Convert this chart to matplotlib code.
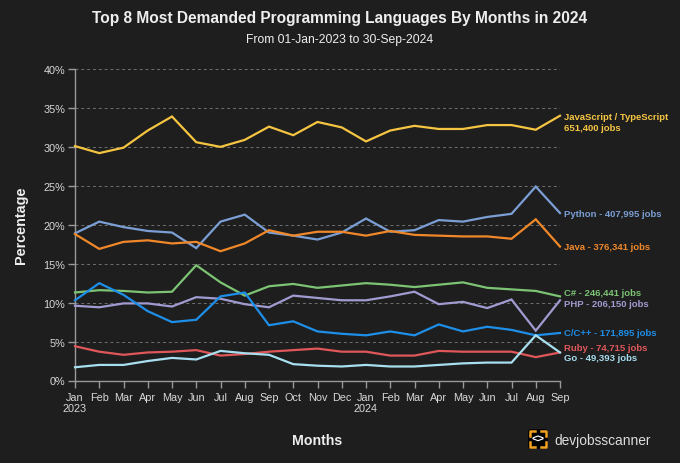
import matplotlib
matplotlib.use("Agg")
import matplotlib.pyplot as plt
from matplotlib.patches import FancyBboxPatch
from matplotlib.lines import Line2D

plt.rcParams['font.family'] = ['Liberation Sans', 'DejaVu Sans']

months = ["Jan\n2023", "Feb", "Mar", "Apr", "May", "Jun", "Jul", "Aug", "Sep", "Oct", "Nov", "Dec",
          "Jan\n2024", "Feb", "Mar", "Apr", "May", "Jun", "Jul", "Aug", "Sep"]

js = [30.1, 29.2, 29.9, 32.1, 33.9, 30.6, 30.0, 30.9, 32.6, 31.5, 33.2, 32.5, 30.7, 32.1, 32.7, 32.3, 32.3, 32.8, 32.8, 32.2, 34.0]
python = [18.9, 20.4, 19.7, 19.2, 19.0, 17.0, 20.4, 21.3, 19.0, 18.6, 18.1, 19.0, 20.8, 19.1, 19.3, 20.6, 20.4, 21.0, 21.4, 24.9, 21.5]
java = [18.8, 16.9, 17.8, 18.0, 17.6, 17.8, 16.6, 17.6, 19.3, 18.6, 19.1, 19.1, 18.6, 19.2, 18.7, 18.6, 18.5, 18.5, 18.2, 20.7, 17.2]
csharp = [11.3, 11.6, 11.5, 11.3, 11.4, 14.8, 12.6, 10.9, 12.1, 12.4, 11.9, 12.2, 12.5, 12.3, 12.0, 12.3, 12.6, 11.9, 11.7, 11.5, 10.8]
php = [9.6, 9.4, 9.9, 9.9, 9.5, 10.7, 10.5, 9.8, 9.4, 10.9, 10.6, 10.3, 10.3, 10.8, 11.4, 9.8, 10.1, 9.3, 10.4, 6.4, 10.3]
cpp = [10.3, 12.5, 11.0, 8.9, 7.5, 7.8, 10.8, 11.3, 7.1, 7.6, 6.3, 6.0, 5.8, 6.3, 5.8, 7.2, 6.3, 6.9, 6.5, 5.8, 6.1]
ruby = [4.4, 3.7, 3.3, 3.6, 3.7, 3.9, 3.2, 3.4, 3.7, 3.9, 4.1, 3.7, 3.7, 3.2, 3.2, 3.8, 3.7, 3.7, 3.7, 3.0, 3.6]
go = [1.7, 2.0, 2.0, 2.5, 2.9, 2.7, 3.8, 3.5, 3.3, 2.1, 1.9, 1.8, 2.0, 1.8, 1.8, 2.0, 2.2, 2.3, 2.3, 5.8, 3.6]

labels = ["JavaScript / TypeScript\n651,400 jobs", "Python - 407,995 jobs", "Java - 376,341 jobs",
          "C# - 246,441 jobs", "PHP - 206,150 jobs", "C/C++ - 171,895 jobs",
          "Ruby - 74,715 jobs", "Go - 49,393 jobs"]
series = [js, python, java, csharp, php, cpp, ruby, go]
colors = ["#f5c542", "#7b9fd4", "#f0882a", "#7cc474", "#a09bd0", "#1e8fe8", "#e0575a", "#a8dff0"]
label_offsets = [-6, 0, 0, 4, -3, 0, 4.5, -5]  # pixel offsets (up positive)

BG = "#1e1e1e"
fig = plt.figure(figsize=(6.8, 4.64), dpi=100, facecolor=BG)
ax = fig.add_axes([75/680, 1 - 381.5/464, (560 - 75)/680, (381.5 - 70)/464])
ax.set_facecolor(BG)

x = list(range(len(months)))
for s, c in zip(series, colors):
    ax.plot(x, s, color=c, lw=1.6, solid_joinstyle='miter', zorder=3, clip_on=False)

ax.set_xlim(0, len(months) - 1)
ax.set_ylim(0, 40)
ax.set_yticks(range(0, 41, 5))
ax.set_yticklabels([f"{v}%" for v in range(0, 41, 5)])
ax.set_xticks(x)
ax.set_xticklabels(months)

ax.grid(axis='y', color='#707070', ls=(0, (3, 3)), lw=0.7)
ax.set_axisbelow(True)
for sp in ['top', 'right']:
    ax.spines[sp].set_visible(False)
for sp in ['left', 'bottom']:
    ax.spines[sp].set_color('#999999')
    ax.spines[sp].set_linewidth(1)
ax.tick_params(colors='#999999', labelcolor='#d8d8d8', labelsize=7.8, length=5, width=1)
ax.tick_params(axis='y', pad=2)
ax.tick_params(axis='x', pad=3)
for t in ax.get_xticklabels():
    t.set_linespacing(1.15)

for s, c, lab, off in zip(series, colors, labels, label_offsets):
    ax.annotate(lab, xy=(x[-1], s[-1]), xytext=(4, off), textcoords='offset pixels',
                color=c, fontsize=6.8, fontweight='bold', va='center', ha='left',
                linespacing=1.3, annotation_clip=False)

ax.set_ylabel("Percentage", color='#eeeeee', fontsize=10.4, fontweight='bold', labelpad=11)
fig.text(317/680, 1 - 441/464, "Months", color='#eeeeee', fontsize=10.2, fontweight='bold',
         ha='center', va='center')

fig.text(340/680, 1 - 19/464, "Top 8 Most Demanded Programming Languages By Months in 2024",
         color='#eeeeee', fontsize=11.2, fontweight='bold', ha='center', va='center')
fig.text(340/680, 1 - 40/464, "From 01-Jan-2023 to 30-Sep-2024", color='#eeeeee',
         fontsize=8.7, ha='center', va='center')

# logo
lx, ly, lw_, lh = 528/680, 1 - 450/464, 20/680, 20/464
fig.patches.append(FancyBboxPatch((lx, ly), lw_, lh, boxstyle="round,pad=0,rounding_size=0.006",
                                  transform=fig.transFigure, facecolor='#000000', edgecolor='none'))
orange = '#f0a020'
cw, ch = 5/680, 5/464
for (cx, cy, dx, dy) in [(lx + 2/680, ly + lh - 2/464, 1, -1), (lx + lw_ - 2/680, ly + lh - 2/464, -1, -1),
                         (lx + 2/680, ly + 2/464, 1, 1), (lx + lw_ - 2/680, ly + 2/464, -1, 1)]:
    fig.lines.append(Line2D([cx + dx * cw, cx, cx], [cy, cy, cy + dy * ch], transform=fig.transFigure,
                            color=orange, lw=1.8))
fig.text(lx + lw_ / 2, ly + lh / 2, "<>", color='white', fontsize=8, fontweight='bold',
         ha='center', va='center')
fig.text(554/680, 1 - 441/464, "devjobsscanner", color='#dddddd', fontsize=9.9, ha='left', va='center')

fig.savefig("out.png", dpi=100, facecolor=BG)
